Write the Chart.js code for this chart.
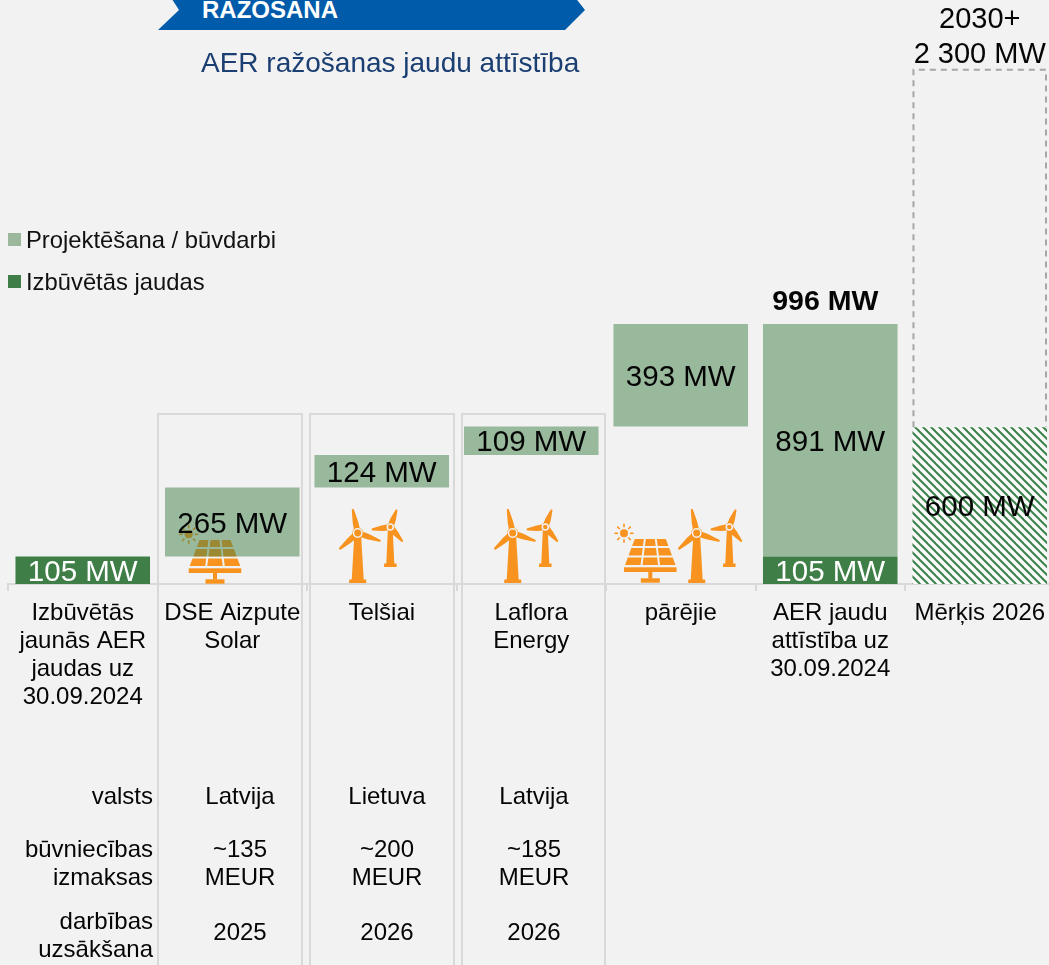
<!DOCTYPE html>
<html>
<head>
<meta charset="utf-8">
<title>AER ražošanas jaudu attīstība</title>
<script src="https://cdn.jsdelivr.net/npm/chart.js@4"></script>
<style>
html, body { margin: 0; padding: 0; background: #f2f2f2; overflow: hidden; width: 1049px; height: 965px; }
#chartBox { position: absolute; left: 0; top: 0; width: 1056px; height: 965px; }
.banner { position: absolute; left: 158px; top: -4px; width: 427px; height: 34px; background: #005baa;
    clip-path: polygon(12px 0, 21px 14px, 0 100%, 407px 100%, 100% 14px, 416px 0); }
.banner span { position: absolute; left: 44px; top: 0; font: bold 24px "Liberation Sans"; line-height: 28px; color: #fff; }
.title { position: absolute; left: 201px; top: 47px; font: 28px "Liberation Sans"; line-height: 32px; color: #1b3f72; }
.legend { position: absolute; left: 8px; font: 23.8px "Liberation Sans"; line-height: 28px; color: #111; padding-left: 18px; }
.legend i { position: absolute; left: 0; top: 7px; width: 13px; height: 13px; }
</style>
</head>
<body>
<div id="chartBox"><canvas id="chart" width="1056" height="965"></canvas></div>
<div class="banner"><span>RAŽOŠANA</span></div>
<div class="title">AER ražošanas jaudu attīstība</div>
<div class="legend" style="top:226px"><i style="background:#9bb89c"></i>Projektēšana / būvdarbi</div>
<div class="legend" style="top:268px"><i style="background:#3f7f47"></i>Izbūvētās jaudas</div>
<script>
var categories = [
    ['Izbūvētās', 'jaunās AER', 'jaudas uz', '30.09.2024'],
    ['DSE Aizpute', 'Solar'],
    'Telšiai',
    ['Laflora', 'Energy'],
    'pārējie',
    ['AER jaudu', 'attīstība uz', '30.09.2024'],
    'Mērķis 2026'
];
var waterfallBase = [0, 105, 370, 494, 603, 0, 0];
var installed = [105, null, null, null, null, 105, null];
var construction = [null, 265, 124, 109, 393, 891, null];
var target2026 = [null, null, null, null, null, null, 600];
// dashed box: the source draws it shorter than its 2 300 MW label, height
var target2030Box = [null, null, null, null, null, null, 1370];
var totalMw = 996;
var target2030Label = ['2030+', '2 300 MW'];

var rowLabels = [['valsts'], ['būvniecības', 'izmaksas'], ['darbības', 'uzsākšana']];
var countries = ['Latvija', 'Lietuva', 'Latvija'];
var costs = ['~135', '~200', '~185'];
var startYears = ['2025', '2026', '2026'];

var FONT = '"Liberation Sans"';
var INK = '#050505';
var GREEN = '#3f7f47';
var LIGHT_GREEN = 'rgba(63,127,71,0.5)';
var ORANGE = '#f7931e';
var BG = '#f2f2f2';
var GRID = '#d9d9d9';

function hatchPattern(ctx) {
    var c = document.createElement('canvas');
    c.width = 8;
    c.height = 8;
    var p = c.getContext('2d');
    p.fillStyle = '#fafafa';
    p.fillRect(0, 0, 8, 8);
    p.strokeStyle = '#3a8049';
    p.lineWidth = 2;
    [-8, 0, 8].forEach(function (o) {
        p.beginPath();
        p.moveTo(o - 1, -1);
        p.lineTo(o + 9, 9);
        p.stroke();
    });
    return ctx.createPattern(c, 'repeat');
}

function drawBlade(ctx, dx, dy) {
    var len = Math.sqrt(dx * dx + dy * dy);
    ctx.save();
    ctx.rotate(Math.atan2(dy, dx));
    ctx.beginPath();
    ctx.moveTo(3, -3);
    ctx.lineTo(len * 0.45, -2.8);
    ctx.lineTo(len - 1, -1.1);
    ctx.arc(len - 1, 0, 1.1, -Math.PI / 2, Math.PI / 2);
    ctx.lineTo(len * 0.45, 2.8);
    ctx.lineTo(3, 3);
    ctx.closePath();
    ctx.fill();
    ctx.restore();
}

function drawTurbine(ctx, x, y, h, blades, towerTop, towerBottom, baseW, hubR) {
    ctx.save();
    ctx.translate(x, y);
    ctx.fillStyle = ORANGE;
    ctx.beginPath();
    ctx.moveTo(-towerTop / 2, 4);
    ctx.lineTo(towerTop / 2, 4);
    ctx.lineTo(towerBottom / 2, h - 3);
    ctx.lineTo(-towerBottom / 2, h - 3);
    ctx.closePath();
    ctx.fill();
    ctx.fillRect(-baseW / 2, h - 3.5, baseW, 3.5);
    blades.forEach(function (b) { drawBlade(ctx, b[0], b[1]); });
    ctx.beginPath();
    ctx.arc(0, 0, hubR + 1.2, 0, Math.PI * 2);
    ctx.fill();
    ctx.strokeStyle = BG;
    ctx.lineWidth = 1.5;
    ctx.beginPath();
    ctx.arc(0, 0, hubR, 0, Math.PI * 2);
    ctx.stroke();
    ctx.restore();
}

function drawTurbinePair(ctx, x) {
    drawTurbine(ctx, x, 533, 50, [[-5, -24], [-18.4, 16.3], [23, 8]], 7, 12, 17, 4.2);
    drawTurbine(ctx, x + 32.6, 527, 40, [[6.4, -17.4], [-18.6, 2.6], [12.4, 14.6]], 5, 8, 12.5, 3);
}

function drawPanel(ctx, cx, dy) {
    ctx.save();
    ctx.translate(cx, dy);
    ctx.fillStyle = ORANGE;
    var top = 539, bottom = 565, topHalf = 16.5, bottomHalf = 26.3, gap = 2;
    function edge(t, side) { return side * (topHalf + (bottomHalf - topHalf) * t); }
    var rowsT = [[0, 0.27], [0.35, 0.63], [0.71, 1]];
    rowsT.forEach(function (r) {
        for (var c = 0; c < 3; c++) {
            var a = -1 + c * 2 / 3, b = a + 2 / 3;
            var y0 = top + (bottom - top) * r[0], y1 = top + (bottom - top) * r[1];
            ctx.beginPath();
            ctx.moveTo(edge(r[0], a) + gap / 2, y0);
            ctx.lineTo(edge(r[0], b) - gap / 2, y0);
            ctx.lineTo(edge(r[1], b) - gap / 2, y1);
            ctx.lineTo(edge(r[1], a) + gap / 2, y1);
            ctx.closePath();
            ctx.fill();
        }
    });
    ctx.fillRect(-26.3, 567.3, 52.6, 4.7);
    ctx.fillRect(-2, 572, 4, 6.5);
    ctx.fillRect(-9.5, 578.3, 19, 4.4);
    // sun
    var sx = -26.3, sy = 533.3;
    ctx.beginPath();
    ctx.arc(sx, sy, 4, 0, Math.PI * 2);
    ctx.fill();
    ctx.strokeStyle = ORANGE;
    ctx.lineWidth = 1.6;
    for (var i = 0; i < 8; i++) {
        var an = i * Math.PI / 4;
        ctx.beginPath();
        ctx.moveTo(sx + Math.cos(an) * 6, sy + Math.sin(an) * 6);
        ctx.lineTo(sx + Math.cos(an) * 9.5, sy + Math.sin(an) * 9.5);
        ctx.stroke();
    }
    ctx.restore();
}

function text(ctx, str, x, y, align, font, color) {
    ctx.font = font || ('24px ' + FONT);
    ctx.fillStyle = color || INK;
    ctx.textAlign = align || 'center';
    ctx.textBaseline = 'middle';
    ctx.fillText(str, x, y);
}

// frames and icons go under the bars, the 265 MW bar shows the panel through it
var underBars = {
    id: 'underBars',
    beforeDatasetsDraw: function (chart) {
        var ctx = chart.ctx;
        ctx.save();
        ctx.strokeStyle = GRID;
        ctx.lineWidth = 2;
        [[158, 302], [310, 454], [462, 605]].forEach(function (f) {
            ctx.beginPath();
            ctx.moveTo(f[0], 970);
            ctx.lineTo(f[0], 414);
            ctx.lineTo(f[1], 414);
            ctx.lineTo(f[1], 970);
            ctx.stroke();
        });
        drawPanel(ctx, 215, 1);
        drawTurbinePair(ctx, 357.7);
        drawTurbinePair(ctx, 512.7);
        drawPanel(ctx, 650.3, 0);
        drawTurbinePair(ctx, 696.7);
        ctx.restore();
    }
};

var overBars = {
    id: 'overBars',
    afterDatasetsDraw: function (chart) {
        var ctx = chart.ctx;
        var xs = chart.scales.x, ys = chart.scales.y;
        ctx.save();

        // dashed goal box
        var box = chart.getDatasetMeta(4).data[6];
        ctx.strokeStyle = '#a6a6a6';
        ctx.lineWidth = 2;
        ctx.setLineDash([6, 5]);
        ctx.beginPath();
        ctx.moveTo(box.x - box.width / 2 + 1, box.base);
        ctx.lineTo(box.x - box.width / 2 + 1, box.y);
        ctx.lineTo(box.x + box.width / 2 - 1, box.y);
        ctx.lineTo(box.x + box.width / 2 - 1, box.base);
        ctx.stroke();
        ctx.setLineDash([]);

        // value labels on the bars
        [1, 2, 3].forEach(function (d) {
            var ds = chart.data.datasets[d];
            chart.getDatasetMeta(d).data.forEach(function (bar, i) {
                if (ds.data[i] == null) return;
                var y = (bar.y + bar.base) / 2 + 2.5;
                text(ctx, ds.data[i] + ' MW', bar.x, y, 'center', '29.5px ' + FONT, d === 1 ? '#fff' : INK);
            });
        });

        text(ctx, totalMw + ' MW', xs.getPixelForValue(5) - 5, ys.getPixelForValue(totalMw) - 22, 'center', 'bold 28.5px ' + FONT);
        text(ctx, target2030Label[0], xs.getPixelForValue(6), 20, 'center', '29px ' + FONT);
        text(ctx, target2030Label[1], xs.getPixelForValue(6), 55, 'center', '29px ' + FONT);

        // table under the axis
        text(ctx, rowLabels[0][0], 153, 797, 'right');
        text(ctx, rowLabels[1][0], 153, 850, 'right');
        text(ctx, rowLabels[1][1], 153, 878, 'right');
        text(ctx, rowLabels[2][0], 153, 922, 'right');
        text(ctx, rowLabels[2][1], 153, 950, 'right');
        [240, 387, 534].forEach(function (x, i) {
            text(ctx, countries[i], x, 797);
            text(ctx, costs[i], x, 850);
            text(ctx, 'MEUR', x, 878);
            text(ctx, startYears[i], x, 933);
        });
        ctx.restore();
    }
};

var canvasEl = document.getElementById('chart');
new Chart(canvasEl, {
    type: 'bar',
    data: {
        labels: categories,
        datasets: [
            { label: 'base', data: waterfallBase, backgroundColor: 'transparent' },
            { label: 'Izbūvētās jaudas', data: installed, backgroundColor: GREEN },
            { label: 'Projektēšana / būvdarbi', data: construction, backgroundColor: LIGHT_GREEN },
            { label: 'Mērķis 2026', data: target2026, backgroundColor: hatchPattern(canvasEl.getContext('2d')) },
            { label: '2030+', data: target2030Box, backgroundColor: 'transparent' }
        ]
    },
    options: {
        responsive: false,
        animation: false,
        maintainAspectRatio: false,
        barPercentage: 0.9,
        categoryPercentage: 1,
        layout: { padding: { left: 8, right: 1.5, top: 0, bottom: 0 } },
        plugins: { legend: { display: false }, tooltip: { enabled: false } },
        scales: {
            x: {
                stacked: true,
                afterFit: function (s) { s.height = 381; },
                border: { color: GRID, width: 2 },
                grid: { drawOnChartArea: false, offset: true, color: GRID, lineWidth: 2, tickLength: 7 },
                ticks: {
                    autoSkip: false, maxRotation: 0, minRotation: 0, padding: 8, color: INK,
                    font: { family: FONT, size: 24, lineHeight: 1.1667 }
                }
            },
            y: { stacked: true, display: false, min: 0, max: 2237 }
        }
    },
    plugins: [underBars, overBars]
});
</script>
</body>
</html>
